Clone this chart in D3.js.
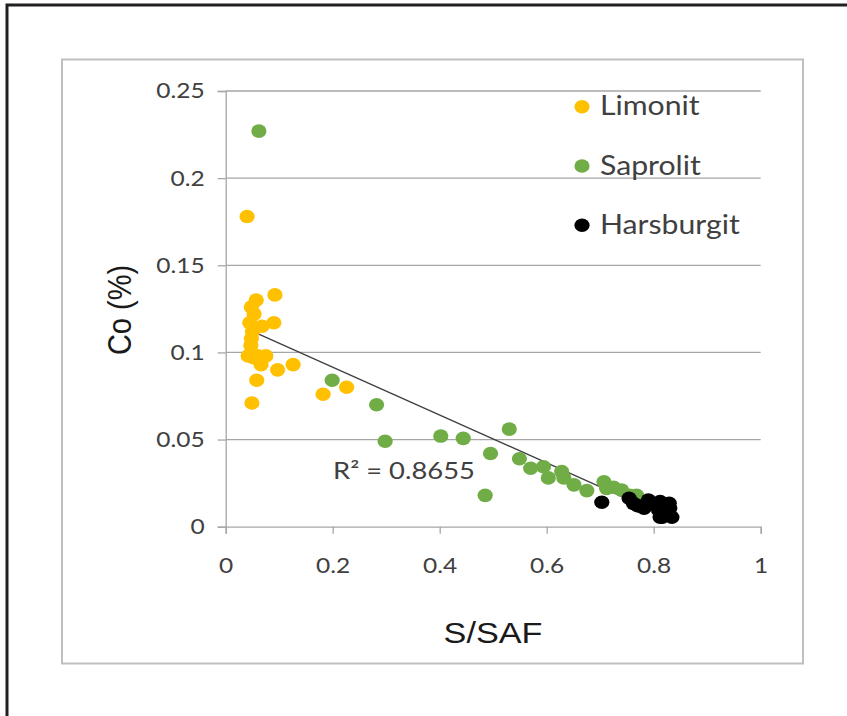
<!DOCTYPE html>
<html>
<head>
<meta charset="utf-8">
<script src="https://cdn.jsdelivr.net/npm/d3@7"></script>
<style>
  body { margin: 0; background: #fff; }
  svg { display: block; }
</style>
</head>
<body>
<script>

// S/SAF vs Co (%) scatter, three rock types

var limonitX = [0.040, 0.092, 0.057, 0.048, 0.053, 0.090, 0.045, 0.068, 0.050, 0.048, 0.047,
                0.042, 0.052, 0.075, 0.066, 0.097, 0.126, 0.058, 0.049, 0.182, 0.226, 0.060];
var limonitY = [0.178, 0.133, 0.130, 0.126, 0.122, 0.117, 0.117, 0.115, 0.112, 0.108, 0.104,
                0.098, 0.097, 0.098, 0.093, 0.090, 0.093, 0.084, 0.071, 0.076, 0.080, 0.098];

var saprolitX = [0.062, 0.199, 0.282, 0.298, 0.402, 0.444, 0.495, 0.530, 0.485, 0.549, 0.570,
                 0.594, 0.603, 0.628, 0.632, 0.651, 0.675, 0.707, 0.712, 0.725, 0.740, 0.755, 0.768];
var saprolitY = [0.227, 0.084, 0.070, 0.049, 0.052, 0.0507, 0.042, 0.056, 0.018, 0.039, 0.0335,
                 0.0344, 0.028, 0.0316, 0.028, 0.024, 0.0207, 0.0258, 0.022, 0.0226, 0.021, 0.018, 0.018];

var harsburgitX = [0.703, 0.754, 0.762, 0.770, 0.774, 0.790, 0.799, 0.812, 0.829, 0.782, 0.809,
                   0.830, 0.812, 0.834, 0.821, 0.816];
var harsburgitY = [0.014, 0.0163, 0.0134, 0.012, 0.0119, 0.0153, 0.0134, 0.0144, 0.0134, 0.0106, 0.0096,
                   0.0106, 0.0054, 0.0054, 0.0067, 0.0054];

var seriesNames = ["Limonit", "Saprolit", "Harsburgit"];
var seriesColors = ["#FFC000", "#70AD47", "#000000"];

var xTicks = [0, 0.2, 0.4, 0.6, 0.8, 1];
var yTicks = [0, 0.05, 0.1, 0.15, 0.2, 0.25];

// linear trendline (Limonit + Saprolit), as shown on chart
var trendSlope = -0.1373;
var trendIntercept = 0.119;
var r2Label = "R\u00B2 = 0.8655";

var W = 847, H = 716;
var stretch = 1.14;   // the picture is a bit wider than tall

var svg = d3.select("body").append("svg")
    .attr("width", W)
    .attr("height", H);

// outer frame
svg.append("rect")
    .attr("x", 7).attr("y", 5)
    .attr("width", 900).attr("height", 800)
    .attr("fill", "none")
    .attr("stroke", "#231f20")
    .attr("stroke-width", 3);

// chart box
svg.append("rect")
    .attr("x", 62).attr("y", 59.5)
    .attr("width", 741).attr("height", 604)
    .attr("fill", "#fff")
    .attr("stroke", "#bfbfbf")
    .attr("stroke-width", 2);

var x = d3.scaleLinear().domain([0, 1]).range([225.7, 760.7]);
var y = d3.scaleLinear().domain([0, 0.25]).range([526.7, 91]);

var tickFont = "Lato, 'Open Sans', sans-serif";

// gridlines
svg.append("g")
  .selectAll("line")
  .data(yTicks.slice(1))
  .enter().append("line")
    .attr("x1", x(0)).attr("x2", x(1))
    .attr("y1", function(d) { return y(d); })
    .attr("y2", function(d) { return y(d); })
    .attr("stroke", "#a6a6a6")
    .attr("stroke-width", 1.3);

// axes
var xAxis = svg.append("g")
    .attr("transform", "translate(0," + y(0) + ")")
    .call(d3.axisBottom(x).tickValues(xTicks).tickSize(7).tickPadding(24)
      .tickFormat(function(d) { return d3.format("")(d); }));

var yAxis = svg.append("g")
    .attr("transform", "translate(" + x(0) + ",0)")
    .call(d3.axisLeft(y).tickValues(yTicks).tickSize(8).tickPadding(14)
      .tickFormat(function(d) { return d3.format("")(+d.toFixed(2)); }));

[xAxis, yAxis].forEach(function(ax) {
  ax.select(".domain").attr("stroke", "#a6a6a6").attr("stroke-width", 1.3);
  ax.selectAll(".tick line").attr("stroke", "#a6a6a6").attr("stroke-width", 1.3);
  ax.selectAll(".tick text")
    .attr("fill", "#404040")
    .style("font-family", tickFont)
    .style("font-size", "21.5px");
});
xAxis.selectAll(".tick text").attr("transform", "scale(" + stretch + ",1)")
    .attr("x", 0);
yAxis.selectAll(".tick text").attr("transform", "scale(" + stretch + ",1)")
    .attr("x", -21 / stretch);

// trendline
var trendX = limonitX.concat(saprolitX);
var tx = d3.extent(trendX);
svg.append("line")
    .attr("x1", x(tx[0])).attr("y1", y(trendSlope * tx[0] + trendIntercept))
    .attr("x2", x(tx[1])).attr("y2", y(trendSlope * tx[1] + trendIntercept))
    .attr("stroke", "#404040")
    .attr("stroke-width", 1.3);

// points
var allX = [limonitX, saprolitX, harsburgitX];
var allY = [limonitY, saprolitY, harsburgitY];

allX.forEach(function(xs, s) {
  var pts = xs.map(function(v, i) { return { x: v, y: allY[s][i] }; });
  svg.append("g")
    .selectAll("ellipse")
    .data(pts)
    .enter().append("ellipse")
      .attr("cx", function(d) { return x(d.x); })
      .attr("cy", function(d) { return y(d.y); })
      .attr("rx", 7.6)
      .attr("ry", 6.8)
      .attr("fill", seriesColors[s]);
});

// R² label
svg.append("text")
    .attr("transform", "translate(333,479) scale(" + stretch + ",1)")
    .attr("fill", "#404040")
    .style("font-family", tickFont)
    .style("font-size", "24px")
    .text(r2Label);

// legend
var legend = svg.append("g")
  .selectAll("g")
  .data(seriesNames)
  .enter().append("g")
    .attr("transform", function(d, i) {
      return "translate(582," + (106.7 + i * 59.3) + ")";
    });

legend.append("ellipse")
    .attr("rx", 7.6)
    .attr("ry", 6.8)
    .attr("fill", function(d, i) { return seriesColors[i]; });

legend.append("text")
    .attr("transform", "translate(18,8.5) scale(" + stretch + ",1)")
    .attr("fill", "#404040")
    .style("font-family", tickFont)
    .style("font-size", "26.5px")
    .text(function(d) { return d; });

// axis titles
svg.append("text")
    .attr("transform", "translate(493,643) scale(" + stretch + ",1)")
    .attr("text-anchor", "middle")
    .attr("fill", "#1a1a1a")
    .style("font-family", "'Liberation Sans', Arial, sans-serif")
    .style("font-size", "30px")
    .text("S/SAF");

svg.append("text")
    .attr("transform", "translate(131,310) rotate(-90) scale(1," + stretch + ")")
    .attr("text-anchor", "middle")
    .attr("fill", "#1a1a1a")
    .style("font-family", "'Liberation Sans', Arial, sans-serif")
    .style("font-size", "29px")
    .text("Co (%)");

</script>
</body>
</html>
